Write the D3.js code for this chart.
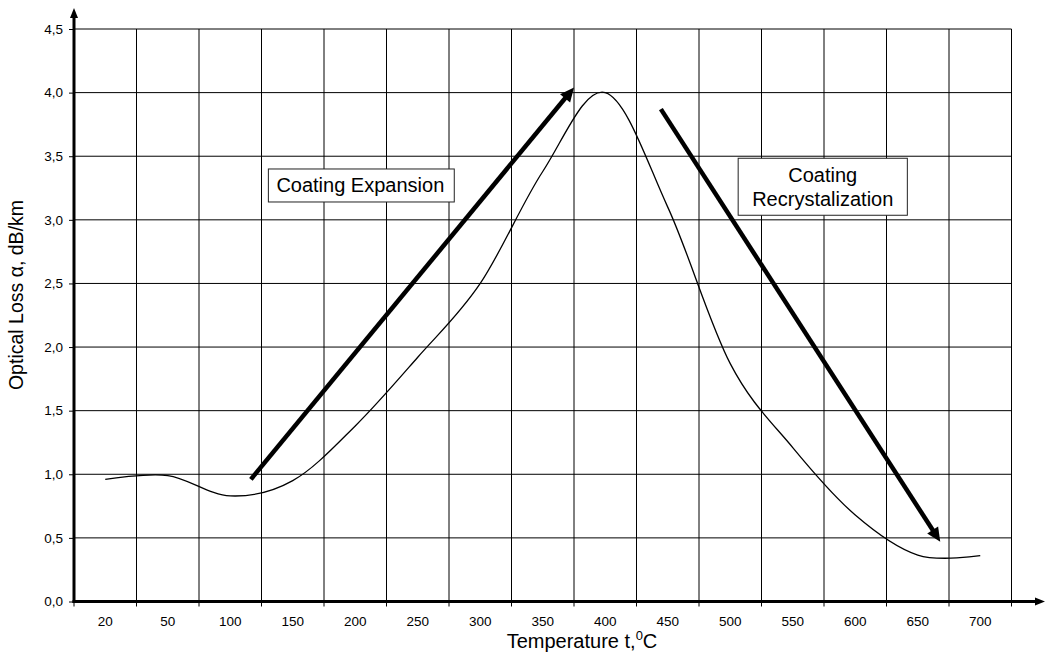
<!DOCTYPE html>
<html>
<head>
<meta charset="utf-8">
<script src="https://cdn.jsdelivr.net/npm/d3@7"></script>
<style>
  html, body { margin: 0; padding: 0; background: #fff; }
  svg { display: block; }
  text { font-family: "Liberation Sans", Arial, sans-serif; fill: #000; }
</style>
</head>
<body>
<svg id="chart" width="1045" height="654"></svg>
<script>
// ---- data ----
const categories = ["20","50","100","150","200","250","300","350","400","450","500","550","600","650","700"];
const lossValues = [0.96, 0.99, 0.83, 0.95, 1.38, 1.92, 2.5, 3.38, 4.0, 3.1, 1.87, 1.21, 0.68, 0.365, 0.36];
const yTicks = [0, 0.5, 1.0, 1.5, 2.0, 2.5, 3.0, 3.5, 4.0, 4.5];
const xTitle = "Temperature t,";
const yTitle = "Optical Loss \u03b1,  dB/km";
// annotations in data units: [band index, value]
const arrowExpansion = [[2.83, 0.96], [8.0, 4.04]];
const arrowRecryst = [[9.39, 3.87], [13.86, 0.47]];
const labelExpansion = { lines: ["Coating Expansion"], at: [3.11, 3.27], anchor: "left" };
const labelRecryst = { lines: ["Coating", "Recrystalization"], at: [11.98, 3.26], anchor: "center" };

// ---- layout ----
const svg = d3.select("#chart");
const mLeft = 74, mRight = 1011.5, mTop = 29, mBottom = 601.5;

const x = d3.scaleBand().domain(categories).range([mLeft, mRight]).padding(0);
const xi = d3.scaleLinear().domain([0, categories.length]).range([mLeft, mRight]);
const y = d3.scaleLinear().domain([0, 4.5]).range([mBottom, mTop]);

// grid
const grid = svg.append("g");
grid.selectAll("line.h").data(yTicks.filter(d => d > 0)).join("line")
  .attr("x1", mLeft).attr("x2", mRight)
  .attr("y1", d => y(d)).attr("y2", d => y(d))
  .attr("stroke", "#000").attr("stroke-width", 1);
const vLines = categories.map((c, i) => i + 1);
grid.selectAll("line.v").data(vLines).join("line")
  .attr("x1", d => xi(d)).attr("x2", d => xi(d))
  .attr("y1", mTop).attr("y2", mBottom)
  .attr("stroke", "#000").attr("stroke-width", 1);

// y axis ticks & labels
const yAxis = d3.axisLeft(y).tickValues(yTicks).tickSize(5).tickPadding(6)
  .tickFormat(d => d3.format(".1f")(d).replace(".", ","));
const gy = svg.append("g").attr("transform", `translate(${mLeft},0)`).call(yAxis);
gy.select(".domain").remove();
gy.selectAll("text").style("font-size", "13.5px").style("font-family", "'Liberation Sans', Arial, sans-serif");

// x axis ticks (at band boundaries) & labels
const gx = svg.append("g").attr("transform", `translate(0,${mBottom})`);
gx.selectAll("line").data(d3.range(0, categories.length + 1)).join("line")
  .attr("x1", d => xi(d)).attr("x2", d => xi(d)).attr("y1", 0).attr("y2", 5)
  .attr("stroke", "#000");
gx.selectAll("text").data(categories).join("text")
  .attr("x", d => x(d) + x.bandwidth() / 2).attr("y", 24)
  .attr("text-anchor", "middle").style("font-size", "13.5px").text(d => d);

// axis lines with arrows
function arrow(g, x1, y1, x2, y2, w, headLen, headW) {
  const ang = Math.atan2(y2 - y1, x2 - x1);
  const bx = x2 - headLen * Math.cos(ang), by = y2 - headLen * Math.sin(ang);
  g.append("line").attr("x1", x1).attr("y1", y1).attr("x2", bx + Math.cos(ang)).attr("y2", by + Math.sin(ang))
    .attr("stroke", "#000").attr("stroke-width", w);
  const px = -Math.sin(ang) * headW / 2, py = Math.cos(ang) * headW / 2;
  g.append("path").attr("d", `M${x2},${y2}L${bx + px},${by + py}L${bx - px},${by - py}Z`).attr("fill", "#000");
}
const axes = svg.append("g");
arrow(axes, mLeft, mBottom + 1.5, mLeft, 8, 3, 10, 8);
arrow(axes, mLeft - 1.5, mBottom, 1045, mBottom, 3, 10, 8);

// data line
const line = d3.line()
  .x((d, i) => x(categories[i]) + x.bandwidth() / 2)
  .y(d => y(d))
  .curve(d3.curveCardinal.tension(0));
svg.append("path").datum(lossValues).attr("d", line)
  .attr("fill", "none").attr("stroke", "#000").attr("stroke-width", 1.3);

// annotation arrows
const ann = svg.append("g");
[arrowExpansion, arrowRecryst].forEach(a => {
  arrow(ann, xi(a[0][0]), y(a[0][1]), xi(a[1][0]), y(a[1][1]), 4.5, 14, 13);
});

// annotation labels with boxes
function box(lbl) {
  const g = svg.append("g");
  const lh = 24;
  const cx = xi(lbl.at[0]), cy = y(lbl.at[1]);
  const t = g.append("text").style("font-size", "20px")
    .attr("text-anchor", lbl.anchor === "center" ? "middle" : "start");
  const n = lbl.lines.length;
  lbl.lines.forEach((s, i) => {
    t.append("tspan").attr("x", lbl.anchor === "center" ? cx : cx + 8)
      .attr("y", cy + (i - (n - 1) / 2) * lh + 7).text(s);
  });
  const bb = t.node().getBBox();
  let rx, rw;
  if (lbl.anchor === "center") { rw = bb.width + 28; rx = cx - rw / 2; }
  else { rx = cx; rw = bb.width + 18; }
  const rh = n * lh + 9;
  g.insert("rect", "text").attr("x", rx).attr("y", cy - rh / 2).attr("width", rw).attr("height", rh)
    .attr("fill", "#fff").attr("stroke", "#222").attr("stroke-width", 1);
}
box(labelExpansion);
box(labelRecryst);

// axis titles
const xt = svg.append("text").attr("x", 582).attr("y", 648).attr("text-anchor", "middle").style("font-size", "20px");
xt.append("tspan").text(xTitle);
xt.append("tspan").attr("dy", -8).style("font-size", "13px").text("0");
xt.append("tspan").attr("dy", 8).text("C");

svg.append("text").attr("transform", "translate(23,295) rotate(-90)")
  .attr("text-anchor", "middle").style("font-size", "19.5px").text(yTitle);
</script>
</body>
</html>
